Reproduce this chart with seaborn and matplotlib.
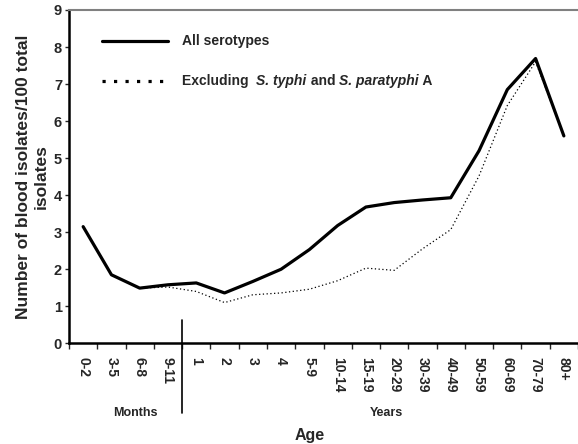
import numpy as np
import pandas as pd
import matplotlib
matplotlib.use("Agg")
import matplotlib.pyplot as plt
import matplotlib.transforms as mtransforms
import seaborn as sns

# age groups and values
age_groups = ["0-2", "3-5", "6-8", "9-11", "1", "2", "3", "4", "5-9", "10-14",
              "15-19", "20-29", "30-39", "40-49", "50-59", "60-69", "70-79", "80+"]
all_serotypes = [3.15, 1.85, 1.49, 1.58, 1.63, 1.36, 1.67, 2.0, 2.53, 3.18,
                 3.68, 3.80, 3.87, 3.93, 5.2, 6.85, 7.69, 5.6]
excl_typhi = [3.15, 1.85, 1.49, 1.52, 1.40, 1.10, 1.31, 1.36, 1.46, 1.69,
              2.03, 1.97, 2.55, 3.07, 4.52, 6.42, 7.6, 5.6]
y_ticks = list(range(0, 10))

sns.set_style("ticks")
plt.rcParams['font.family'] = ['Liberation Sans', 'DejaVu Sans']
plt.rcParams['font.weight'] = 'bold'

df = pd.DataFrame({
    "pos": np.arange(len(age_groups)),
    "all": all_serotypes,
    "excl": excl_typhi,
})

fig = plt.figure(figsize=(5.78, 4.44), dpi=100)
ax = fig.add_axes([0.1194, 0.2268, 0.8806, 0.7507])

sns.lineplot(data=df, x="pos", y="excl", ax=ax, color="black",
             linewidth=0.9, linestyle=(0, (1, 2)))
sns.lineplot(data=df, x="pos", y="all", ax=ax, color="black", linewidth=2.3)

ax.set_xlim(-0.5, len(age_groups) - 0.5)
ax.set_ylim(0, 9)
ax.set_yticks(y_ticks)
ax.set_yticklabels([str(v) for v in y_ticks], fontsize=10.5, fontweight='bold')

# category labels centred, tick marks on the boundaries
ax.set_xticks(df["pos"])
ax.set_xticklabels(age_groups, rotation=270, fontsize=10, fontweight='bold')
ax.tick_params(axis='x', which='major', length=0, pad=10)
ax.set_xticks(np.arange(-0.5, len(age_groups), 1), minor=True)
ax.tick_params(axis='x', which='minor', length=4, width=1, direction='out')
ax.tick_params(axis='y', length=3, width=1, pad=2)

for s in ["left", "bottom"]:
    ax.spines[s].set_linewidth(1.8)
    ax.spines[s].set_color("black")
ax.spines["top"].set_color("#808080")
ax.spines["top"].set_linewidth(1.5)
ax.spines["right"].set_visible(False)

ax.set_xlabel("")
ax.set_ylabel("Number of blood isolates/100 total\nisolates", fontsize=12.5,
              fontweight='bold', labelpad=4, linespacing=1.15)

# separator between months and years
trans = mtransforms.blended_transform_factory(ax.transData, ax.transAxes)
ax.plot([3.5, 3.5], [0.07, -0.21], color="black", linewidth=1.2,
        transform=trans, clip_on=False)

fig.text(135 / 578, 1 - 413 / 444, "Months", ha="center", va="center",
         fontsize=9, fontweight='bold')
fig.text(386 / 578, 1 - 413 / 444, "Years", ha="center", va="center",
         fontsize=9, fontweight='bold')
fig.text(310 / 578, 1 - 435 / 444, "Age", ha="center", va="center",
         fontsize=11.5, fontweight='bold')

# legend drawn by hand (mixed italic text)
ax.plot([0.065, 0.195], [0.908, 0.908], color="black", linewidth=2.3,
        transform=ax.transAxes, clip_on=False)
ax.plot([0.065, 0.195], [0.787, 0.787], color="black", linewidth=2.3,
        linestyle=(0, (1, 2.6)), transform=ax.transAxes, clip_on=False)
ax.text(0.222, 0.908, "All serotypes", transform=ax.transAxes, va="center",
        fontsize=10, fontweight='bold')
t = ax.text(0.222, 0.787, "Excluding  ", transform=ax.transAxes, va="center",
            fontsize=10, fontweight='bold')
parts = [("S. typhi", "italic"), (" and ", "normal"),
         ("S. paratyphi", "italic"), (" A", "normal")]
for txt, style in parts:
    t = ax.annotate(txt, xy=(1, 0), xycoords=t, va="bottom", ha="left",
                    fontsize=10, fontweight='bold', fontstyle=style)

fig.savefig("out.png", dpi=100)
